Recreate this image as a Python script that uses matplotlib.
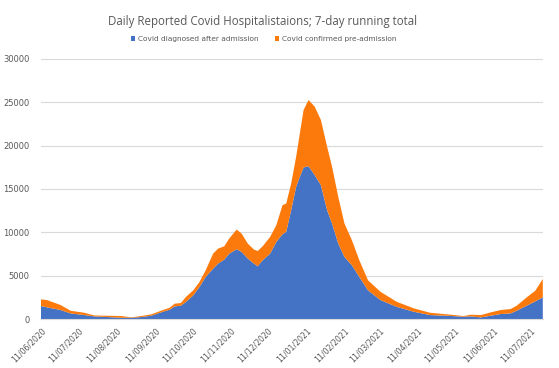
import numpy as np
import pandas as pd
import matplotlib
matplotlib.use("Agg")
import matplotlib.pyplot as plt
import matplotlib.dates as mdates

# Values (7-day running totals)
dates = pd.to_datetime([
    "2020-06-11", "2020-06-16", "2020-06-27", "2020-07-05", "2020-07-16", "2020-07-24",
    "2020-08-04", "2020-08-15", "2020-08-23", "2020-08-31", "2020-09-08", "2020-09-16",
    "2020-09-23", "2020-09-27", "2020-10-02", "2020-10-06", "2020-10-12", "2020-10-17",
    "2020-10-22", "2020-10-28", "2020-11-01", "2020-11-06", "2020-11-10", "2020-11-16",
    "2020-11-20", "2020-11-25", "2020-11-30", "2020-12-03", "2020-12-07", "2020-12-13",
    "2020-12-18", "2020-12-23", "2020-12-26", "2020-12-30", "2021-01-03", "2021-01-06",
    "2021-01-09", "2021-01-13", "2021-01-18", "2021-01-23", "2021-01-28", "2021-02-01",
    "2021-02-06", "2021-02-11", "2021-02-17", "2021-02-23", "2021-03-02", "2021-03-12",
    "2021-03-25", "2021-04-08", "2021-04-21", "2021-05-05", "2021-05-18", "2021-05-24",
    "2021-06-01", "2021-06-09", "2021-06-17", "2021-06-25", "2021-06-30", "2021-07-08",
    "2021-07-15", "2021-07-21",
])

after_admission = [
    1500, 1350, 1040, 650, 460, 310,
    230, 150, 150, 230, 380, 770,
    1080, 1460, 1540, 1960, 2730, 3700,
    4850, 5810, 6390, 6850, 7540, 8050,
    7740, 6970, 6390, 6080, 6780, 7540,
    8890, 9780, 10050, 12550, 15250, 16400,
    17480, 17630, 16590, 15440, 12550, 11010,
    8700, 7160, 6200, 4850, 3310, 2190,
    1420, 840, 460, 380, 270, 310,
    190, 385, 580, 650, 960, 1540,
    2040, 2500,
]

pre_admission = [
    770, 840, 575, 310, 270, 110,
    150, 200, 50, 120, 160, 190,
    230, 310, 310, 580, 580, 570,
    770, 1730, 1730, 1540, 1740, 2270,
    2120, 1730, 1620, 1770, 1610, 1930,
    1930, 3350, 3270, 3080, 3460, 5010,
    6620, 7630, 7900, 7510, 7320, 6550,
    5390, 3850, 2890, 1930, 1160, 960,
    580, 390, 270, 160, 80, 190,
    270, 385, 460, 505, 580, 960,
    1230, 2120,
]

tick_dates = pd.date_range("2020-06-01", "2021-07-01", freq="MS") + pd.Timedelta(days=10)

text_col = "#595959"
fig = plt.figure(figsize=(5.59, 3.68), dpi=100)
ax = fig.add_axes([0.073, 0.133, 0.898, 0.707])

ax.stackplot(dates, after_admission, pre_admission,
             colors=["#4472C4", "#FC7A0B"],
             labels=["Covid diagnosed after admission", "Covid confirmed pre-admission"])

ax.set_ylim(0, 30000)
ax.set_yticks(np.arange(0, 30001, 5000))
ax.set_xlim(dates[0], dates[-1])
ax.set_xticks(tick_dates)
ax.xaxis.set_major_formatter(mdates.DateFormatter("%d/%m/%Y"))
plt.setp(ax.get_xticklabels(), rotation=45, ha="right", rotation_mode="anchor")

ax.grid(axis="y", color="#d9d9d9", linewidth=0.8)
ax.set_axisbelow(True)
for s in ["top", "right", "left"]:
    ax.spines[s].set_visible(False)
ax.spines["bottom"].set_color("#d9d9d9")
ax.tick_params(axis="x", length=0, labelsize=5.6, labelcolor=text_col, pad=5)
ax.tick_params(axis="y", length=0, labelsize=6, labelcolor=text_col, pad=8)

fig.suptitle("Daily Reported Covid Hospitalistaions; 7-day running total",
             x=0.469, y=0.96, fontsize=8.3, color=text_col, family="Open Sans")
fig.legend(loc="center", bbox_to_anchor=(0.472, 0.894), ncol=2, frameon=False,
           fontsize=5.3, handlelength=0.6, handleheight=0.6, columnspacing=2.2,
           handletextpad=0.4, labelcolor=text_col)

fig.savefig("out.png", dpi=100)
